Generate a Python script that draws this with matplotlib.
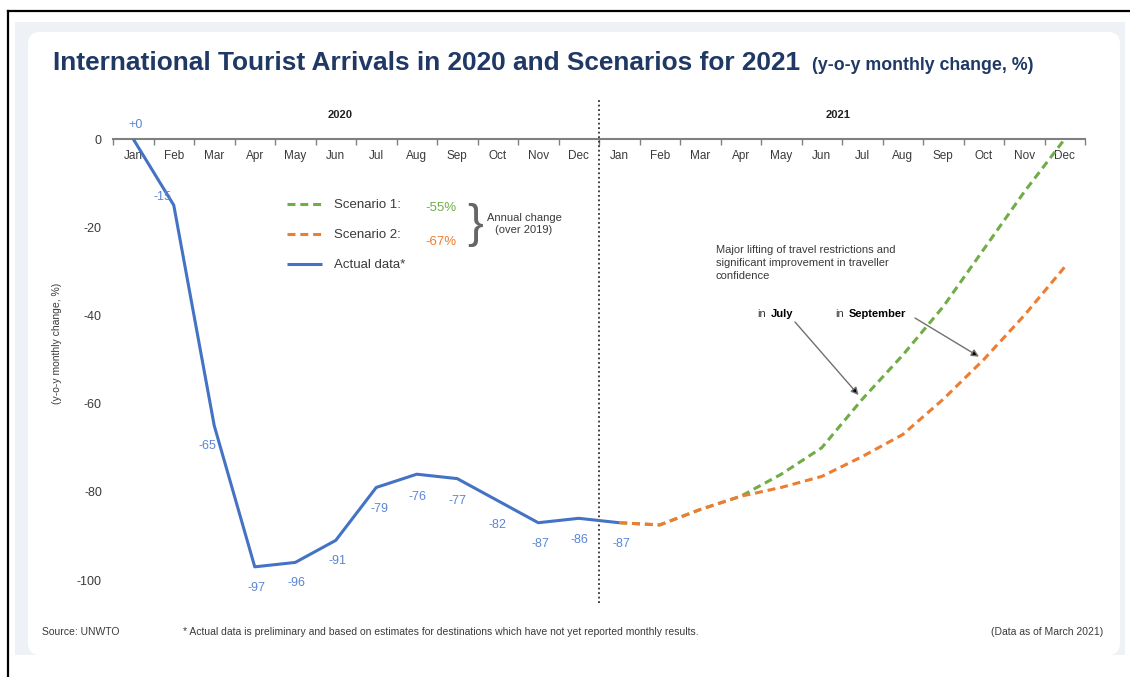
import numpy as np
import matplotlib
matplotlib.use('Agg')
import matplotlib.pyplot as plt
from matplotlib.patches import Rectangle, FancyBboxPatch
from matplotlib.lines import Line2D

plt.rcParams['font.family'] = ['Liberation Sans', 'DejaVu Sans']

# data
months = ['Jan', 'Feb', 'Mar', 'Apr', 'May', 'Jun',
          'Jul', 'Aug', 'Sep', 'Oct', 'Nov', 'Dec'] * 2
actual = [0, -15, -65, -97, -96, -91, -79, -76, -77, -82, -87, -86, -87]
actual_labels = ['+0', '-15', '-65', '-97', '-96', '-91', '-79',
                 '-76', '-77', '-82', '-87', '-86', '-87']
scenario1 = [-87, -87.5, -84, -81, -76, -70, -59, -49, -38, -25, -12, 0]
scenario2 = [-87, -87.5, -84, -81, -79, -76.5, -72, -67, -59, -50, -40, -29]
yticks = [0, -20, -40, -60, -80, -100]

BLUE = '#4472c4'
LBLUE = '#5a86d6'
GREEN = '#70ad47'
ORANGE = '#ed7d31'
NAVY = '#1f3864'
GRAY_TXT = '#3a3a3a'

W, H = 1130, 677
fig = plt.figure(figsize=(W / 100, H / 100), dpi=100)
fig.patch.set_facecolor('white')

# background panel + frame
inch = fig.dpi_scale_trans
fig.add_artist(Rectangle((0.15, 0.22), 11.10, 6.33, transform=inch,
                         facecolor='#eef1f6', edgecolor='none', zorder=-20))
fig.add_artist(FancyBboxPatch((0.28, 0.22), 10.92, 6.23, transform=inch,
                              boxstyle='round,pad=0,rounding_size=0.12',
                              facecolor='white', edgecolor='none', zorder=-15))
fig.add_artist(Line2D([0.08, 11.3], [6.66, 6.66], transform=inch,
                      color='black', lw=1.6, zorder=-5))
fig.add_artist(Line2D([0.08, 0.08], [0, 6.66], transform=inch,
                      color='black', lw=1.6, zorder=-5))

ax = fig.add_axes([113 / W, 1 - 603 / H, (1085 - 113) / W, (603 - 139) / H])
ax.set_facecolor('none')

x = np.arange(len(months))
x_act = x[:len(actual)]
start = len(actual) - 1
x_sc = x[start:]

dash = (2.6, 1.6)
l_act, = ax.plot(x_act, actual, color=BLUE, lw=2.2, solid_capstyle='butt', zorder=3)
l_s1, = ax.plot(x_sc, scenario1, color=GREEN, lw=2.2, dashes=dash, zorder=3)
l_s2, = ax.plot(x_sc, scenario2, color=ORANGE, lw=2.2, dashes=dash, zorder=4)

# data labels for actual values (offsets in pixels)
offs = [(2, 14), (-11, 8), (-7, -20), (2, -21), (1, -21), (2, -21), (3, -22),
        (1, -23), (0, -22), (0, -24), (2, -21), (1, -22), (2, -21)]
for xi, v, lab, o in zip(x_act, actual, actual_labels, offs):
    ax.annotate(lab, (xi, v), xytext=o, textcoords='offset pixels',
                ha='center', va='center', color=LBLUE, fontsize=9)

ax.set_xlim(-0.5, len(months) - 0.5)
ax.set_ylim(-105.2, 0)

for s in ['left', 'right', 'top']:
    ax.spines[s].set_visible(False)
ax.spines['bottom'].set_position(('data', 0))
ax.spines['bottom'].set_color('#808080')
ax.spines['bottom'].set_linewidth(1.5)

ax.set_xticks(x, months)
ax.set_xticks(np.arange(-0.5, len(months), 1), minor=True)
ax.tick_params(axis='x', which='major', length=0, pad=8, labelsize=8.5,
               labelcolor=GRAY_TXT)
ax.tick_params(axis='x', which='minor', length=4, width=1, color='#808080',
               direction='out')
ax.set_yticks(yticks, [str(v) for v in yticks])
ax.tick_params(axis='y', length=0, pad=8, labelsize=9, labelcolor=GRAY_TXT)
ax.set_ylabel('(y-o-y monthly change, %)', fontsize=7.5, color=GRAY_TXT)
ax.yaxis.set_label_coords((62 - 113) / 972, 0.56)

# year divider
ax.axvline(11.5, ymin=0, ymax=1.084, color='#303030', lw=1.3,
           dashes=(1, 1.5), clip_on=False, zorder=2)
ax.text(5.1, 5.4, '2020', ha='center', va='center', fontsize=8,
        fontweight='bold', color='#222')
ax.text(17.4, 5.4, '2021', ha='center', va='center', fontsize=8,
        fontweight='bold', color='#222')

# legend
ax.legend([l_s1, l_s2, l_act], ['Scenario 1:', 'Scenario 2:', 'Actual data*'],
          loc='upper left', bbox_to_anchor=(287 / W, 1 - 199 / H),
          bbox_transform=fig.transFigure, frameon=False, fontsize=9.5,
          handlelength=2.65, handletextpad=0.9, labelspacing=1.35,
          borderpad=0, borderaxespad=0, labelcolor=GRAY_TXT)
fig.text(425 / W, 1 - 208 / H, '-55%', color=GREEN, fontsize=9.5, va='center')
fig.text(425 / W, 1 - 242 / H, '-67%', color=ORANGE, fontsize=9.5, va='center')
fig.text(467 / W, 1 - 225 / H, '}', color='#666', fontsize=34, va='center',
         ha='left')
fig.text(524 / W, 1 - 224 / H, 'Annual change\n(over 2019)', color=GRAY_TXT,
         fontsize=8, ha='center', va='center', linespacing=1.15)

# annotation
fig.text(716 / W, 1 - 245 / H,
         'Major lifting of travel restrictions and\nsignificant improvement in traveller\nconfidence',
         fontsize=8, color=GRAY_TXT, va='top', ha='left', linespacing=1.35)
fig.text(757 / W, 1 - 314 / H, 'in', fontsize=8, color=GRAY_TXT, va='center')
fig.text(771 / W, 1 - 314 / H, 'July', fontsize=8, color='black',
         fontweight='bold', va='center')
fig.text(835 / W, 1 - 314 / H, 'in', fontsize=8, color=GRAY_TXT, va='center')
fig.text(849 / W, 1 - 314 / H, 'September', fontsize=8, color='black',
         fontweight='bold', va='center')
arrow = dict(arrowstyle='-|>', ec='#707070', fc='black', lw=1, mutation_scale=11,
             shrinkA=0, shrinkB=4)
i_jul = months.index('Jul', 12)
i_oct = months.index('Oct', 12)
ax.annotate('', xy=(x[i_jul], scenario1[i_jul - start]), xytext=(795, H - 322),
            textcoords='figure pixels', arrowprops=arrow)
ax.annotate('', xy=(x[i_oct], scenario2[i_oct - start]), xytext=(915, H - 318),
            textcoords='figure pixels', arrowprops=arrow)

# title
title = fig.text(53 / W, 1 - 70 / H,
                 'International Tourist Arrivals in 2020 and Scenarios for 2021',
                 fontsize=19, fontweight='bold', color=NAVY, va='baseline')
sub = fig.text(812 / W, 1 - 70 / H, '(y-o-y monthly change, %)', fontsize=11,
               fontweight='bold', color=NAVY, va='baseline')
fig.canvas.draw()
for t, target in [(title, 747), (sub, 221)]:
    w = t.get_window_extent().width
    t.set_fontsize(t.get_fontsize() * target / w)

# footer
fig.text(42 / W, 1 - 632 / H, 'Source: UNWTO', fontsize=7.5, color=GRAY_TXT,
         va='center')
fig.text(183 / W, 1 - 632 / H,
         '* Actual data is preliminary and based on estimates for destinations '
         'which have not yet reported monthly results.',
         fontsize=7.5, color=GRAY_TXT, va='center')
fig.text(1103 / W, 1 - 632 / H, '(Data as of March 2021)', fontsize=7.5,
         color=GRAY_TXT, va='center', ha='right')

fig.savefig('out.png', dpi=100)
